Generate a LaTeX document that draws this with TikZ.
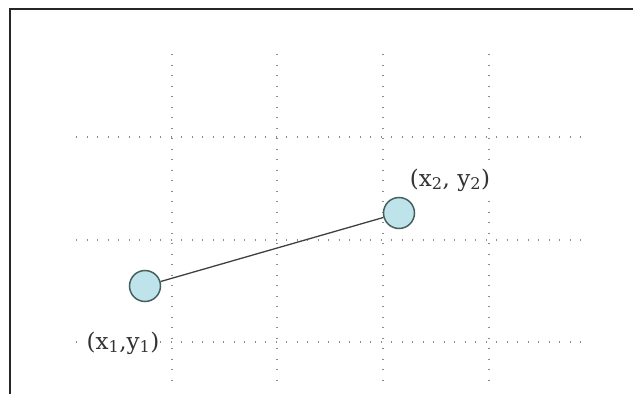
\documentclass[tikz,border=0pt]{standalone}
\usepackage{fontspec}
\newfontfamily\labelfont{DejaVu Serif}
\definecolor{pointfill}{HTML}{BFE3EA}
\definecolor{pointedge}{HTML}{46605F}

\begin{document}
\begin{tikzpicture}[
    x=1pt, y=-1pt,
    gridline/.style={gray!90, line width=1.2pt, dash pattern=on 1.2pt off 9.3pt},
    point/.style={
        circle,
        draw=pointedge,
        fill=pointfill,
        line width=1.5pt,
        minimum size=31pt,
        inner sep=0pt
    },
    coordlabel/.style={fill=white, inner sep=1pt, font=\labelfont\fontsize{23}{26}\selectfont, text=black!80}
]
\useasboundingbox (0,0) rectangle (633,394);

% Frame
\draw[black!85, line width=2pt] (9.5,9) rectangle (650,410);

% Grid
\foreach \gx in {172,277,383,489}
    \draw[gridline] (\gx,54) -- (\gx,381);
\foreach \gy in {137,240,342}
    \draw[gridline] (76,\gy) -- (587,\gy);

% Points
\node[point] (p1) at (145,286) {};
\node[point] (p2) at (399,213) {};
\draw[black!75, line width=1.3pt] (p1) -- (p2);

% Labels
\node[coordlabel] (l1) at (123,343) {(x\textsubscript{1},y\textsubscript{1})};
\node[coordlabel] (l2) at (450,180) {(x\textsubscript{2}, y\textsubscript{2})};

\end{tikzpicture}
\end{document}
